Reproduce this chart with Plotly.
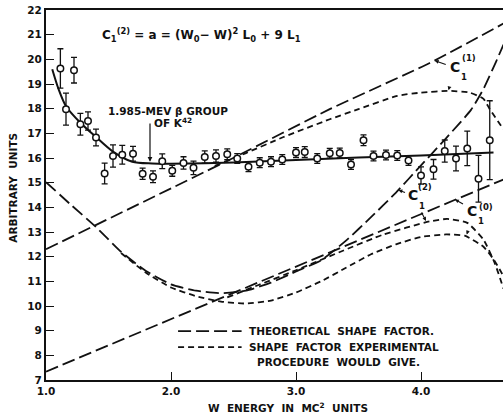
import plotly.graph_objects as go

# Measured shape factor of the 1.985-MeV beta group of K42
w_meas = [1.115, 1.16, 1.224, 1.275, 1.336, 1.40, 1.469, 1.536, 1.61, 1.696,
          1.773, 1.856, 1.93, 2.01, 2.10, 2.18, 2.27, 2.36, 2.45, 2.53,
          2.62, 2.71, 2.80, 2.89, 3.00, 3.07, 3.17, 3.27, 3.35, 3.44,
          3.54, 3.62, 3.72, 3.81, 3.90, 4.00, 4.10, 4.19, 4.28, 4.37,
          4.46, 4.55]
a_meas = [19.63, 17.98, 19.56, 17.37, 17.50, 16.83, 15.37, 16.08, 16.13, 16.17,
          15.36, 15.24, 15.87, 15.48, 15.80, 15.60, 16.04, 16.08, 16.15, 15.98,
          15.65, 15.81, 15.85, 15.94, 16.22, 16.24, 15.98, 16.19, 16.20, 15.74,
          16.72, 16.08, 16.12, 16.10, 15.90, 15.29, 15.54, 16.28, 15.98, 16.39,
          15.16, 16.72]
a_err = [0.80, 0.65, 0.52, 0.44, 0.37, 0.34, 0.42, 0.45, 0.38, 0.30,
         0.23, 0.24, 0.30, 0.22, 0.25, 0.27, 0.25, 0.25, 0.22, 0.20,
         0.20, 0.20, 0.20, 0.20, 0.20, 0.22, 0.20, 0.20, 0.20, 0.20,
         0.22, 0.20, 0.20, 0.20, 0.20, 0.35, 0.40, 0.45, 0.50, 0.70,
         0.95, 1.60]

# Smooth curve through the measurements
w_fit = [1.05, 1.10, 1.16, 1.275, 1.40, 1.53, 1.69, 1.85, 2.00, 2.50, 3.00, 3.50, 4.00, 4.58]
a_fit = [19.60, 18.80, 18.10, 17.43, 16.85, 16.28, 15.85, 15.78, 15.77, 15.82, 15.92, 16.02, 16.10, 16.22]

# Theoretical shape factors (long dashes)
w_c1_1 = [1.0, 2.525, 3.27, 4.07, 4.66]
c1_1 = [12.30, 16.07, 17.98, 19.85, 21.45]

w_c1_2 = [1.0, 1.2, 1.4, 1.6, 1.8, 2.0, 2.2, 2.4, 2.6, 2.8, 3.0, 3.2, 3.4, 3.6, 3.8, 4.0, 4.2, 4.4, 4.5, 4.6, 4.66]
c1_2 = [15.02, 14.10, 13.20, 12.20, 11.42, 10.88, 10.62, 10.52, 10.62, 10.95, 11.40, 11.85, 12.65, 13.60, 14.60, 15.70, 16.80, 17.95, 18.80, 19.90, 20.60]

w_c1_0 = [1.0, 4.66]
c1_0 = [7.34, 15.13]

# Shape factors the experimental procedure would give (short dashes)
w_e1 = [2.35, 2.60, 2.90, 3.27, 3.50, 3.81, 4.00, 4.23, 4.39, 4.50, 4.55, 4.66]
e1 = [15.68, 16.20, 16.85, 17.57, 17.98, 18.52, 18.65, 18.72, 18.65, 18.40, 17.98, 17.16]

w_e2 = [2.45, 2.70, 3.00, 3.38, 3.70, 4.07, 4.21, 4.37, 4.50, 4.59, 4.66]
e2 = [10.35, 10.85, 11.45, 12.25, 12.90, 13.43, 13.53, 13.37, 12.69, 11.74, 10.70]

w_e0 = [1.6, 1.8, 2.0, 2.2, 2.4, 2.6, 2.8, 3.0, 3.2, 3.4, 3.6, 3.8, 4.0, 4.2, 4.35, 4.5, 4.58, 4.65]
e0 = [12.15, 11.35, 10.75, 10.40, 10.18, 10.10, 10.22, 10.55, 11.00, 11.55, 12.10, 12.50, 12.80, 12.90, 12.85, 12.40, 11.90, 11.30]

y_ticks = list(range(7, 23))
x_ticks = [1.0, 2.0, 3.0, 4.0]
x_labels = ["1.0", "2.0", "3.0", "4.0"]

INK = "#111111"
LONG = "13px,5px"
SHORT = "6px,4px"
FONT = "DejaVu Sans"

fig = go.Figure()


def dashed(x, y, dash):
    fig.add_trace(go.Scatter(x=x, y=y, mode="lines",
                             line=dict(color=INK, width=1.8, dash=dash, shape="spline", smoothing=0.5),
                             hoverinfo="skip", showlegend=False))


dashed(w_c1_1, c1_1, LONG)
dashed(w_c1_2, c1_2, LONG)
dashed(w_c1_0, c1_0, LONG)
dashed(w_e1, e1, SHORT)
dashed(w_e2, e2, SHORT)
dashed(w_e0, e0, SHORT)

fig.add_trace(go.Scatter(x=w_fit, y=a_fit, mode="lines",
                         line=dict(color=INK, width=2, shape="spline", smoothing=0.8),
                         hoverinfo="skip", showlegend=False))

fig.add_trace(go.Scatter(
    x=w_meas, y=a_meas, mode="markers",
    marker=dict(symbol="circle", size=6.5, color="white", line=dict(color=INK, width=1.5)),
    error_y=dict(type="data", array=a_err, visible=True, color=INK, thickness=1.3, width=3),
    showlegend=False))

txt = dict(family=FONT, size=10.5, color=INK, weight="bold")

ann = []
# formula
ann.append(dict(x=1.43, y=21.0, xref="x", yref="y", xanchor="left", yanchor="middle", showarrow=False,
                text="C<sub>1</sub><sup>(2)</sup> = a = (W<sub>0</sub>\u2212 W)<sup>2</sup> L<sub>0</sub> + 9 L<sub>1</sub>",
                font=dict(family=FONT, size=12, color=INK, weight="bold")))
# K42 note
ann.append(dict(x=1.48, y=17.6, xref="x", yref="y", xanchor="left", yanchor="bottom", showarrow=False,
                text="1.985-MEV \u03b2 GROUP", font=txt))
ann.append(dict(x=1.85, y=17.45, xref="x", yref="y", xanchor="left", yanchor="middle", showarrow=False,
                text="OF K<sup>42</sup>", font=txt))
ann.append(dict(x=1.832, y=15.85, ax=1.832, ay=17.8, xref="x", yref="y", axref="x", ayref="y",
                showarrow=True, arrowhead=2, arrowsize=0.8, arrowwidth=1.2, arrowcolor=INK, standoff=0, text=" "))

# curve labels: (C pos, sup pos, sub pos, sup text, arrows)
labels = [
    ((4.272, 19.70), (4.38, 20.05), (4.345, 19.27), "(1)",
     [((4.222, 19.75), (4.11, 19.95)), ((4.25, 19.28), (4.22, 18.75))]),
    ((3.936, 14.48), (4.035, 14.84), (4.006, 14.06), "(2)",
     [((3.896, 14.56), (3.82, 14.70)), ((3.98, 14.02), (4.04, 13.45))]),
    ((4.406, 13.86), (4.52, 14.0), (4.478, 13.44), "(0)",
     [((4.36, 14.07), (4.272, 14.32)), ((4.40, 13.42), (4.366, 12.90))]),
]
for cpos, spos, bpos, sup, arrows in labels:
    ann.append(dict(x=cpos[0], y=cpos[1], xref="x", yref="y", showarrow=False, text="C",
                    font=dict(family=FONT, size=14, color=INK, weight="bold")))
    ann.append(dict(x=spos[0], y=spos[1], xref="x", yref="y", showarrow=False, text=sup,
                    font=dict(family=FONT, size=8.5, color=INK, weight="bold")))
    ann.append(dict(x=bpos[0], y=bpos[1], xref="x", yref="y", showarrow=False, text="1",
                    font=dict(family=FONT, size=8.5, color=INK, weight="bold")))
    for tail, head in arrows:
        ann.append(dict(x=head[0], y=head[1], ax=tail[0], ay=tail[1], xref="x", yref="y", axref="x", ayref="y",
                        showarrow=True, arrowhead=2, arrowsize=0.7, arrowwidth=1.1, arrowcolor=INK,
                        standoff=0, text=" "))

# key
key_y = [0.132, 0.089]
ann.append(dict(x=0.44, y=key_y[0], xref="paper", yref="paper", xanchor="left", yanchor="middle",
                showarrow=False, text="THEORETICAL  SHAPE  FACTOR.", font=txt))
ann.append(dict(x=0.44, y=key_y[1], xref="paper", yref="paper", xanchor="left", yanchor="middle",
                showarrow=False, text="SHAPE  FACTOR  EXPERIMENTAL", font=txt))
ann.append(dict(x=0.458, y=0.050, xref="paper", yref="paper", xanchor="left", yanchor="middle",
                showarrow=False, text="PROCEDURE  WOULD  GIVE.", font=txt))

# axis titles
ann.append(dict(x=0.53, y=-0.073, xref="paper", yref="paper", xanchor="center", yanchor="middle",
                showarrow=False, text="W  ENERGY  IN  MC<sup>2</sup>  UNITS", font=txt))
ann.append(dict(x=-0.072, y=0.52, xref="paper", yref="paper", xanchor="center", yanchor="middle",
                showarrow=False, text="ARBITRARY  UNITS", textangle=-90, font=txt))

shapes = [
    dict(type="line", xref="paper", yref="paper", x0=0.289, x1=0.428, y0=key_y[0], y1=key_y[0],
         line=dict(color=INK, width=1.8, dash=LONG)),
    dict(type="line", xref="paper", yref="paper", x0=0.289, x1=0.428, y0=key_y[1], y1=key_y[1],
         line=dict(color=INK, width=1.8, dash=SHORT)),
]

fig.update_layout(
    width=503, height=415,
    margin=dict(l=46, r=0, t=10, b=35),
    paper_bgcolor="white", plot_bgcolor="white",
    annotations=ann, shapes=shapes,
    showlegend=False,
    xaxis=dict(range=[1.0, 4.656], tickvals=x_ticks, ticktext=x_labels, ticks="inside", ticklen=8,
               tickwidth=1.3, tickcolor=INK, showgrid=False, zeroline=False, showline=True,
               linecolor=INK, linewidth=2, mirror=True, tickfont=txt),
    yaxis=dict(range=[7, 22], tickvals=y_ticks, ticks="inside", ticklen=8, tickwidth=1.3,
               tickcolor=INK, showgrid=False, zeroline=False, showline=True, linecolor=INK,
               linewidth=2, mirror=False, tickfont=txt),
)

fig.write_html("out.html")
